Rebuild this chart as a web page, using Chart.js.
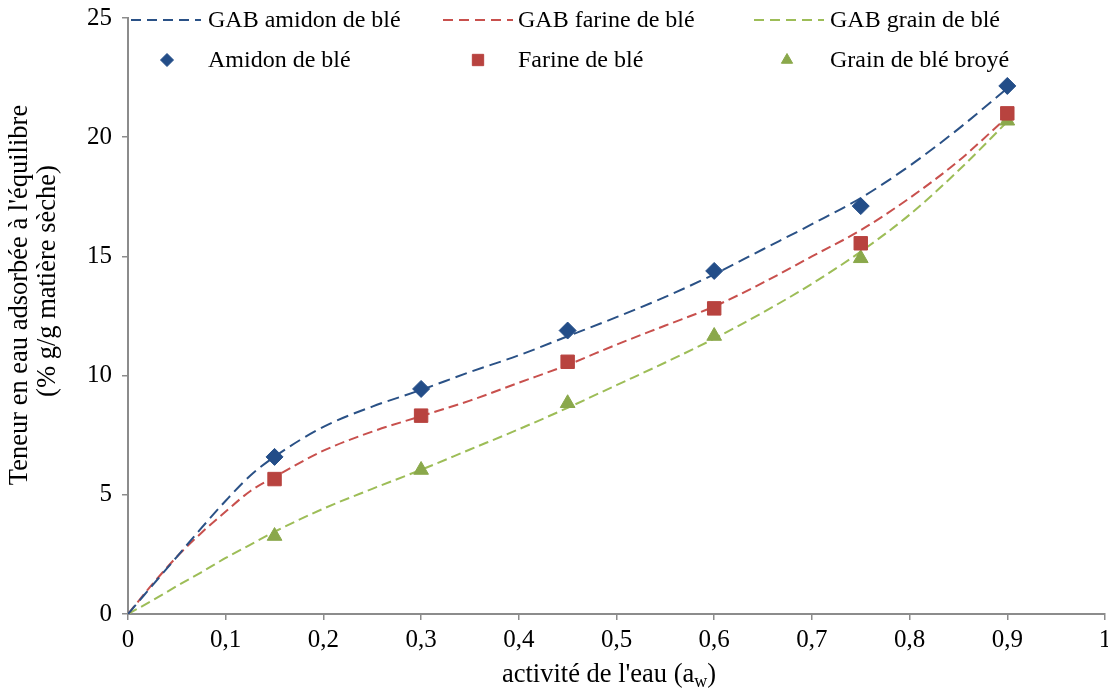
<!DOCTYPE html>
<html>
<head>
<meta charset="utf-8">
<script src="https://cdn.jsdelivr.net/npm/chart.js@4/dist/chart.umd.min.js"></script>
<style>
  html, body { margin: 0; padding: 0; background: #ffffff; }
  #wrap { width: 1108px; height: 697px; position: relative; }
</style>
</head>
<body>
<div id="wrap"><canvas id="c" width="1108" height="697"></canvas></div>
<script>
// ---- Data ----
const awMeasured = [0.15, 0.30, 0.45, 0.60, 0.75, 0.90];
const amidonDeBle = [6.59, 9.44, 11.89, 14.39, 17.11, 22.15];
const farineDeBle = [5.66, 8.32, 10.58, 12.82, 15.55, 21.0];
const grainDeBleBroye = [3.27, 6.04, 8.84, 11.66, 14.92, 20.69];

const awCurve = [0, 0.025, 0.05, 0.075, 0.1, 0.125, 0.15, 0.2, 0.25, 0.3, 0.35, 0.4, 0.45, 0.5, 0.55, 0.6, 0.65, 0.7, 0.75, 0.8, 0.85, 0.9];
const gabAmidon = [0, 1.2, 2.4, 3.6, 4.75, 5.8, 6.6, 7.85, 8.7, 9.4, 10.15, 10.85, 11.65, 12.45, 13.3, 14.25, 15.3, 16.35, 17.45, 18.8, 20.35, 22.05];
const gabFarine = [0, 1.25, 2.4, 3.4, 4.3, 5.15, 5.75, 6.85, 7.65, 8.3, 8.95, 9.7, 10.45, 11.3, 12.1, 12.9, 13.9, 15.0, 16.1, 17.45, 19.0, 20.85];
const gabGrain = [0, 0.57, 1.17, 1.75, 2.35, 2.9, 3.45, 4.42, 5.25, 6.05, 6.9, 7.75, 8.65, 9.6, 10.55, 11.55, 12.65, 13.85, 15.2, 16.75, 18.6, 20.65];

const xTickValues = [0, 0.1, 0.2, 0.3, 0.4, 0.5, 0.6, 0.7, 0.8, 0.9, 1];
const yTickValues = [0, 5, 10, 15, 20, 25];

const seriesNames = ['GAB amidon de blé', 'GAB farine de blé', 'GAB grain de blé', 'Amidon de blé', 'Farine de blé', 'Grain de blé broyé'];
const xTitle = ["activité de l'eau (a", 'w', ')'];
const yTitle = ["Teneur en eau adsorbée à l'équilibre", '(% g/g matière sèche)'];

// ---- Styles ----
const FONT = '"Liberation Serif", "Times New Roman", serif';
const BLUE_LINE = '#2a5186', RED_LINE = '#c8504d', GREEN_LINE = '#9dbd57';
const BLUE_PT = '#234d88', RED_PT = '#b8433f', GREEN_PT = '#8aa84b';
const AXIS = '#8c8c8c';

function pts(xs, ys) { return xs.map((x, i) => ({ x: x, y: ys[i] })); }

const lineDs = (label, data, color, dash) => ({
  type: 'line', label, data, borderColor: color, backgroundColor: color,
  borderWidth: 2, borderDash: dash, pointRadius: 0, fill: false,
  cubicInterpolationMode: 'monotone', order: 2
});
const ptDs = (label, data, color, style, r) => ({
  type: 'scatter', label, data, showLine: false, backgroundColor: color, borderColor: color,
  borderWidth: 1, pointStyle: style, pointRadius: r, pointHoverRadius: r, order: 1
});

const datasets = [
  lineDs(seriesNames[0], pts(awCurve, gabAmidon), BLUE_LINE, [12, 6]),
  lineDs(seriesNames[1], pts(awCurve, gabFarine), RED_LINE, [10, 5]),
  lineDs(seriesNames[2], pts(awCurve, gabGrain), GREEN_LINE, [10, 5]),
  ptDs(seriesNames[3], pts(awMeasured, amidonDeBle), BLUE_PT, 'rectRot', 8.5),
  ptDs(seriesNames[4], pts(awMeasured, farineDeBle), RED_PT, 'rect', 9.5),
  ptDs(seriesNames[5], pts(awMeasured, grainDeBleBroye), GREEN_PT, 'triangle', 8.5)
];

// ---- Custom legend + axis titles ----
const decorPlugin = {
  id: 'decor',
  afterDraw(chart) {
    const ctx = chart.ctx;
    ctx.save();
    ctx.fillStyle = '#000';
    ctx.font = '24px ' + FONT;
    ctx.textBaseline = 'middle';

    // Legend (3 columns x 2 rows)
    const cols = [{ lx0: 131, lx1: 201, tx: 208, mx: 167 },
                  { lx0: 443, lx1: 513, tx: 518, mx: 478 },
                  { lx0: 754, lx1: 824, tx: 830, mx: 787 }];
    const rowY = [20, 60];
    for (let i = 0; i < 3; i++) {
      const ds = chart.data.datasets[i];
      const c = cols[i];
      ctx.save();
      ctx.strokeStyle = ds.borderColor;
      ctx.lineWidth = 2;
      ctx.setLineDash([10, 6]);
      ctx.beginPath();
      ctx.moveTo(c.lx0, rowY[0]); ctx.lineTo(c.lx1, rowY[0]);
      ctx.stroke();
      ctx.restore();
      ctx.textAlign = 'left';
      ctx.fillText(ds.label, c.tx, rowY[0] + 1);
    }
    for (let i = 3; i < 6; i++) {
      const ds = chart.data.datasets[i];
      const c = cols[i - 3];
      ctx.save();
      ctx.fillStyle = ds.backgroundColor;
      ctx.strokeStyle = ds.borderColor;
      ctx.lineWidth = 1;
      Chart.helpers.drawPoint(ctx, { pointStyle: ds.pointStyle, radius: ds.pointStyle === 'rect' ? 8 : 6.5, borderWidth: 1, rotation: 0 }, c.mx, rowY[1]);
      ctx.restore();
      ctx.fillText(ds.label, c.tx, rowY[1] + 1);
    }

    // X axis title with subscript
    const big = '26.5px ' + FONT, small = '18px ' + FONT;
    ctx.font = big;
    const w1 = ctx.measureText(xTitle[0]).width;
    ctx.font = small;
    const w2 = ctx.measureText(xTitle[1]).width;
    ctx.font = big;
    const w3 = ctx.measureText(xTitle[2]).width;
    const total = w1 + w2 + w3;
    let x0 = 609 - total / 2;
    const ty = 675;
    ctx.textAlign = 'left';
    ctx.fillText(xTitle[0], x0, ty);
    ctx.font = small;
    ctx.fillText(xTitle[1], x0 + w1, ty + 7);
    ctx.font = big;
    ctx.fillText(xTitle[2], x0 + w1 + w2, ty);

    // Y axis title (two lines, rotated)
    ctx.save();
    ctx.translate(20, 295);
    ctx.rotate(-Math.PI / 2);
    ctx.textAlign = 'center';
    ctx.font = big;
    ctx.fillText(yTitle[0], 0, 0);
    ctx.restore();
    ctx.save();
    ctx.translate(48, 281);
    ctx.rotate(-Math.PI / 2);
    ctx.textAlign = 'center';
    ctx.font = big;
    ctx.fillText(yTitle[1], 0, 0);
    ctx.restore();

    ctx.restore();
  }
};

new Chart(document.getElementById('c'), {
  type: 'scatter',
  data: { datasets },
  plugins: [decorPlugin],
  options: {
    responsive: false,
    animation: false,
    layout: { autoPadding: false, padding: { top: 18, right: 3, left: 0, bottom: 0 } },
    plugins: { legend: { display: false }, tooltip: { enabled: false }, title: { display: false } },
    scales: {
      x: {
        type: 'linear', min: 0, max: 1,
        afterBuildTicks: (s) => { s.ticks = xTickValues.map(v => ({ value: v })); },
        afterFit: (s) => { s.height = 83; s.paddingRight = 0; s.paddingLeft = 0; },
        border: { display: true, color: AXIS, width: 2 },
        grid: { display: true, drawOnChartArea: false, drawTicks: true, tickLength: 6, color: AXIS, lineWidth: 1.5 },
        ticks: {
          color: '#000', font: { family: FONT, size: 25 }, padding: 5, maxRotation: 0, autoSkip: false,
          callback: (v) => String(Math.round(v * 10) / 10).replace('.', ',')
        }
      },
      y: {
        type: 'linear', min: 0, max: 25,
        afterBuildTicks: (s) => { s.ticks = yTickValues.map(v => ({ value: v })); },
        afterFit: (s) => { s.width = 128; s.paddingTop = 0; s.paddingBottom = 0; },
        border: { display: true, color: AXIS, width: 2 },
        grid: { display: true, drawOnChartArea: false, drawTicks: true, tickLength: 6, color: AXIS, lineWidth: 1.5 },
        ticks: { color: '#000', font: { family: FONT, size: 25 }, padding: 10, autoSkip: false }
      }
    }
  }
});
</script>
</body>
</html>
